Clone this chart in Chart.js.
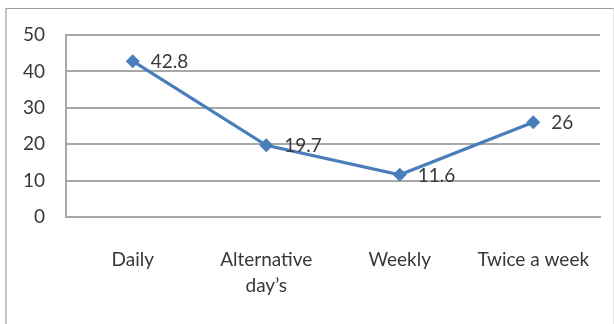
<!DOCTYPE html>
<html>
<head>
<meta charset="utf-8">
<script src="https://cdn.jsdelivr.net/npm/chart.js@4/dist/chart.umd.min.js"></script>
<style>
  html, body { margin: 0; padding: 0; background: #ffffff; }
  #wrap { position: relative; width: 614px; height: 324px; overflow: hidden; }
  #frame {
    position: absolute; left: 5px; top: 8px; width: 606px; height: 330px;
    border-top: 1px solid #9a9a9a; border-left: 2px solid #c4c4c4; border-right: 1px solid #e4e4e4;
  }
  canvas { position: absolute; left: 0; top: 0; }
</style>
</head>
<body>
<div id="wrap">
  <div id="frame"></div>
  <canvas id="chart" width="614" height="324"></canvas>
</div>
<script>
// Frequency categories and their percentages
const categories = ['Daily', ['Alternative', 'day\u2019s'], 'Weekly', 'Twice a week'];
const values = [42.8, 19.7, 11.6, 26];
const yTicks = [0, 10, 20, 30, 40, 50];

const FONT = { family: 'Lato, "Open Sans", sans-serif', size: 19 };
const TEXT = '#383838';
const GRID = '#a8a8a8';
const LINE = '#4a7ebb';

// Writes each value just to the right of its marker
const valueLabels = {
  id: 'valueLabels',
  afterDatasetsDraw(chart) {
    const ctx = chart.ctx;
    const meta = chart.getDatasetMeta(0);
    ctx.save();
    ctx.font = `${FONT.size}px ${FONT.family}`;
    ctx.fillStyle = TEXT;
    ctx.textAlign = 'left';
    ctx.textBaseline = 'middle';
    meta.data.forEach((pt, i) => {
      ctx.fillText(String(values[i]), pt.x + 18, pt.y + 1);
    });
    ctx.restore();
  }
};

new Chart(document.getElementById('chart'), {
  type: 'line',
  data: {
    labels: categories,
    datasets: [{
      data: values,
      borderColor: LINE,
      backgroundColor: LINE,
      borderWidth: 3.2,
      pointStyle: 'rectRot',
      pointRadius: 7,
      pointHoverRadius: 7,
      pointBorderWidth: 0,
      tension: 0,
      fill: false
    }]
  },
  options: {
    responsive: false,
    animation: false,
    events: [],
    layout: { padding: { left: 0, right: 14, top: 35, bottom: 0 } },
    plugins: {
      legend: { display: false },
      tooltip: { enabled: false }
    },
    scales: {
      x: {
        offset: true,
        grid: { display: false, drawTicks: false },
        border: { display: true, color: GRID, width: 2 },
        ticks: { font: { ...FONT, lineHeight: 1.35 }, color: TEXT, padding: 30, maxRotation: 0, autoSkip: false },
        afterFit(scale) {
          scale.height = 107;
          scale.paddingLeft = 0;
          scale.paddingRight = 0;
        }
      },
      y: {
        min: 0,
        max: 50,
        afterBuildTicks(scale) { scale.ticks = yTicks.map(v => ({ value: v })); },
        grid: { color: GRID, lineWidth: 2, drawTicks: false },
        border: { display: true, color: GRID, width: 2 },
        ticks: { font: FONT, color: TEXT, padding: 21 },
        afterFit(scale) {
          scale.width = 66;
          scale.paddingTop = 0;
          scale.paddingBottom = 0;
        }
      }
    }
  },
  plugins: [valueLabels]
});
</script>
</body>
</html>
